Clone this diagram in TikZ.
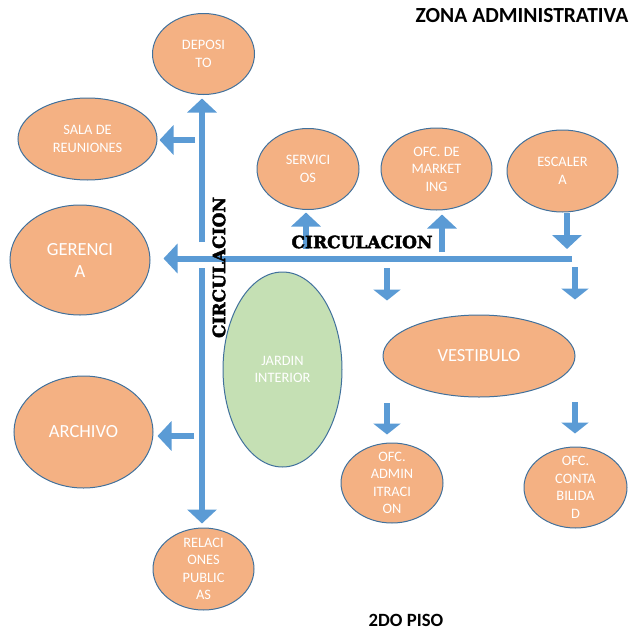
\documentclass[tikz,border=0pt]{standalone}
\usepackage{fontspec}
\setmainfont{Carlito}
\newfontfamily\circfont{DejaVu Serif}[BoldFeatures={FakeBold=2.5}]
\usetikzlibrary{arrows.meta,shapes.geometric}
\definecolor{orangefill}{HTML}{F4B183}
\definecolor{edgeblue}{HTML}{41719C}
\definecolor{greenfill}{HTML}{C5E0B4}
\definecolor{arrowblue}{HTML}{5B9BD5}
\begin{document}
\begin{tikzpicture}[x=1pt,y=-1pt,
  room/.style={ellipse, draw=edgeblue, line width=1pt, fill=orangefill, inner sep=0pt},
  garden/.style={ellipse, draw=edgeblue, line width=1pt, fill=greenfill, inner sep=0pt},
  small/.style={text=white, align=center, font=\fontsize{14.4}{17.5}\selectfont},
  big/.style={text=white, align=center, font=\fontsize{18.5}{22}\selectfont},
  blk/.style={draw=arrowblue, line width=6pt, -{Triangle[width=29pt,length=14pt]}},
  blks/.style={draw=arrowblue, line width=5.5pt, -{Triangle[width=27pt,length=11pt]}},
  circ/.style={font=\circfont\bfseries\fontsize{17}{19}\selectfont, text=black, inner sep=0pt},
  title/.style={font=\bfseries\fontsize{18.7}{20}\selectfont, text=black, inner sep=0pt},
  bigtitle/.style={font=\bfseries\fontsize{21.5}{23}\selectfont, text=black, inner sep=0pt}
]
\useasboundingbox (0,0) rectangle (633,635);

% rooms
\node[room, minimum width=102pt, minimum height=81pt, label={[small]center:DEPOSI\\TO}] (dep) at (203.5,54) {};
\node[room, minimum width=139pt, minimum height=82pt, label={[small]center:SALA DE\\REUNIONES}] (sala) at (87.5,139) {};
\node[room, minimum width=140pt, minimum height=110pt, label={[big]center:GERENCI\\A}] (ger) at (80,260) {};
\node[room, minimum width=139pt, minimum height=112pt, label={[big]center:ARCHIVO}] (arch) at (83.5,432) {};
\node[room, minimum width=101pt, minimum height=82pt, label={[small]center:RELACI\\ONES\\PUBLIC\\AS}] (rel) at (203.5,569) {};
\node[room, minimum width=102pt, minimum height=81pt, label={[small]center:SERVICI\\OS}] (serv) at (308,169) {};
\node[room, minimum width=111pt, minimum height=82pt, label={[small]center:OFC. DE\\MARKET\\ING}] (mkt) at (436.5,169) {};
\node[room, minimum width=111pt, minimum height=82pt, label={[small]center:ESCALER\\A}] (esc) at (562.5,171) {};
\node[garden, minimum width=119pt, minimum height=195pt, label={[small]center:JARDIN\\INTERIOR}] (jar) at (282.5,369.5) {};
\node[room, minimum width=192pt, minimum height=82pt, label={[big]center:VESTIBULO}] (vest) at (479,356) {};
\node[room, minimum width=102pt, minimum height=80pt, label={[small]center:OFC.\\ADMIN\\ITRACI\\ON}] (adm) at (392,483) {};
\node[room, minimum width=103pt, minimum height=81pt, label={[small]center:OFC.\\CONTA\\BILIDA\\D}] (cont) at (575.5,487.5) {};

% coordinates for free ends
\coordinate (vtop) at (202,242);
\coordinate (vbot) at (202,268);
\coordinate (hr) at (572,258.5);
\coordinate (sa) at (195,140);
\coordinate (ar) at (194,436);
\coordinate (se) at (306,249);
\coordinate (mk) at (442,252);
\coordinate (es) at (567,249);
\coordinate (d1) at (387,268);
\coordinate (d2) at (575,267);
\coordinate (d3) at (387,403);
\coordinate (d4) at (575,402);

% arrows
\draw[blk, shorten >=3.5pt] (vtop) -- (vtop |- dep.south);
\draw[blk, shorten >=4pt] (vbot) -- (vbot |- rel.north);
\draw[blk, shorten >=13pt] (hr) -- (hr -| ger.east);
\draw[blk, shorten >=2pt] (sa) -- (sa -| sala.east);
\draw[blk, shorten >=4pt] (ar) -- (ar -| arch.east);
\draw[blk, shorten >=2.5pt] (se) -- (se |- serv.south);
\draw[blk, shorten >=4pt] (mk) -- (mk |- mkt.south);
\draw[blk] (es |- esc.south) -- (es);
\draw[blks, shorten >=14pt] (d1) -- (d1 |- vest.north);
\draw[blks, shorten >=15pt] (d2) -- (d2 |- vest.north);
\draw[blks, shorten >=8pt] (d3) -- (d3 |- adm.north);
\draw[blks, shorten >=13pt] (d4) -- (d4 |- cont.north);

% labels
\node[circ] (ch) at (362,242) {CIRCULACION};
\node[circ, rotate=90] (cv) at (219,267.5) {CIRCULACION};
\node[bigtitle] (zona) at (522,16) {ZONA ADMINISTRATIVA};
\node[title] (piso) at (406,620) {2DO PISO};
\end{tikzpicture}
\end{document}
